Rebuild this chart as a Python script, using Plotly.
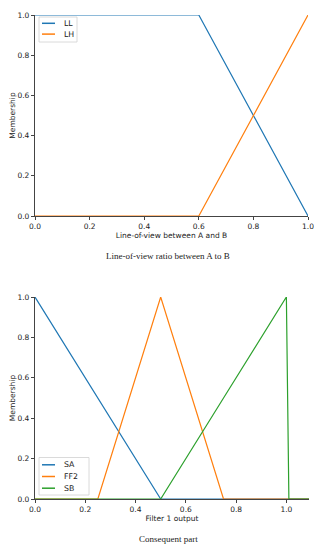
import plotly.graph_objects as go

# ---- data ----
top_x = [0.0, 0.6, 1.0]
LL = [1.0, 1.0, 0.0]
LH = [0.0, 0.0, 1.0]

bot_x = [0.0, 0.25, 0.5, 0.75, 1.0, 1.01, 1.09]
SA = [1.0, 0.5, 0.0, 0.0, 0.0, 0.0, 0.0]
FF2 = [0.0, 0.0, 1.0, 0.0, 0.0, 0.0, 0.0]
SB = [0.0, 0.0, 0.0, 0.5, 1.0, 0.0, 0.0]

y_ticks = [0.0, 0.2, 0.4, 0.6, 0.8, 1.0]
x_ticks = [0.0, 0.2, 0.4, 0.6, 0.8, 1.0]

C1, C2, C3 = "#1f77b4", "#ff7f0e", "#2ca02c"

# The page body has an 8px default margin, so the figure is drawn 8px smaller
# and every target pixel position is offset by 8px.
OFF = 8
W, H = 322 - OFF, 550 - OFF


def px(x):
    return (x - OFF) / W


def py(y):
    return 1 - (y - OFF) / H


fig = go.Figure()
lw = 1.2
for xs, ys, nm, c, ax, ay in [
    (top_x, LL, "LL", C1, "x", "y"),
    (top_x, LH, "LH", C2, "x", "y"),
    (bot_x, SA, "SA", C1, "x2", "y2"),
    (bot_x, FF2, "FF2", C2, "x2", "y2"),
    (bot_x, SB, "SB", C3, "x2", "y2"),
]:
    fig.add_trace(go.Scatter(x=xs, y=ys, mode="lines", name=nm, line=dict(color=c, width=lw),
                             xaxis=ax, yaxis=ay, showlegend=False))

font = "DejaVu Sans, sans-serif"
tickfont = dict(family=font, size=7.5, color="#222")
titlefont = dict(family=font, size=7.5, color="#222")


def xax(domain, rng, anchor, title):
    return dict(domain=domain, range=rng, anchor=anchor, showgrid=False, zeroline=False,
                showline=True, linecolor="#444", linewidth=1.2, ticks="outside", ticklen=3,
                tickwidth=0.8, tickcolor="#444", tickvals=x_ticks, automargin=False,
                ticktext=[f"{v:.1f}" for v in x_ticks], tickfont=tickfont,
                title=dict(text=title, font=titlefont, standoff=2))


def yax(domain, anchor):
    return dict(domain=domain, range=[0, 1.0], anchor=anchor, showgrid=False, zeroline=False,
                showline=True, linecolor="#444", linewidth=1.2, ticks="outside", ticklen=3,
                tickwidth=0.8, tickcolor="#444", tickvals=y_ticks, automargin=False,
                ticktext=[f"{v:.1f}" for v in y_ticks], tickfont=tickfont,
                title=dict(text="Membership", font=titlefont, standoff=4))


xd1 = [px(35), px(308)]
xd2 = [px(35), px(309)]
yd1 = [py(216), py(15)]
yd2 = [py(499), py(297)]

shapes = []
annotations = []


def legend_box(x0, y0, x1, y1, first, step, items):
    shapes.append(dict(type="rect", xref="paper", yref="paper", x0=px(x0), x1=px(x1),
                       y0=py(y1), y1=py(y0), line=dict(color="#d0d0d0", width=0.8),
                       fillcolor="rgba(255,255,255,0.9)", layer="above"))
    for i, (nm, c) in enumerate(items):
        yy = y0 + first + i * step
        shapes.append(dict(type="line", xref="paper", yref="paper", x0=px(x0 + 3), x1=px(x0 + 16),
                           y0=py(yy), y1=py(yy), line=dict(color=c, width=1.5), layer="above"))
        annotations.append(dict(text=nm, xref="paper", yref="paper", x=px(x0 + 23), y=py(yy),
                                xanchor="left", yanchor="middle", showarrow=False,
                                font=dict(family=font, size=7.8, color="#222")))


legend_box(39, 17, 77, 42, 6.3, 10.8, [("LL", C1), ("LH", C2)])
legend_box(39, 457.5, 89, 495, 7.3, 11.7, [("SA", C1), ("FF2", C2), ("SB", C3)])

annotations += [
    dict(text="Line-of-view ratio between A to B", x=px(168), y=py(256.5), xref="paper", yref="paper",
         xanchor="center", yanchor="middle",
         showarrow=False, font=dict(family="Liberation Serif, serif", size=9, color="#222")),
    dict(text="Consequent part", x=px(168), y=py(538.5), xref="paper", yref="paper",
         xanchor="center", yanchor="middle",
         showarrow=False, font=dict(family="Liberation Serif, serif", size=9, color="#222")),
]

fig.update_layout(
    width=W, height=H, margin=dict(l=0, r=0, t=0, b=0, pad=0, autoexpand=False),
    paper_bgcolor="white", plot_bgcolor="white", showlegend=False,
    xaxis=xax(xd1, [0, 1.0], "y", "Line-of-view between A and B"),
    yaxis=yax(yd1, "x"),
    xaxis2=xax(xd2, [0, 1.09], "y2", "Filter 1 output"),
    yaxis2=yax(yd2, "x2"),
    shapes=shapes, annotations=annotations,
)

fig.write_html("out.html")
